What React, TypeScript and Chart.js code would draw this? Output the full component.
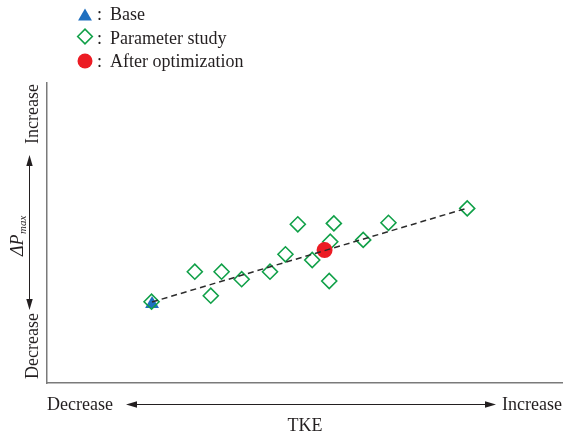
import { useEffect, useRef } from 'react';
import { Chart, registerables } from 'chart.js';

Chart.register(...registerables);

// Arbitrary-unit positions on a 0–10 grid (TKE horizontally, ΔPmax vertically)
const baseTKE = [2.04];
const baseDP = [2.63];

const studyTKE = [2.03, 2.87, 3.18, 3.39, 3.78, 4.33, 4.63, 4.87, 5.15, 5.48, 5.5, 5.57, 6.14, 6.63, 8.16];
const studyDP = [2.71, 3.71, 2.91, 3.71, 3.46, 3.71, 4.29, 5.29, 4.1, 3.4, 4.71, 5.32, 4.77, 5.34, 5.82];

const optTKE = [5.39];
const optDP = [4.43];

const trendTKE = [2.04, 8.16];
const trendDP = [2.7, 5.83];

const legendLabels = ['Base', 'Parameter study', 'After optimization'];
const xEndLabels = ['Decrease', 'Increase'];
const yEndLabels = ['Decrease', 'Increase'];
const xTitle = 'TKE';

const BLUE = '#1f6fbf';
const GREEN = '#10a048';
const RED = '#ec1c24';
const INK = '#231f20';
const SERIF = '"Liberation Serif", "Times New Roman", serif';

const zip = (xs: number[], ys: number[]) => xs.map((x, i) => ({ x, y: ys[i] }));

function arrowHead(ctx: CanvasRenderingContext2D, tx: number, ty: number, dx: number, dy: number) {
  // dx,dy: unit direction the arrow points to
  const len = 11;
  const half = 3.2;
  const bx = tx - dx * len;
  const by = ty - dy * len;
  ctx.beginPath();
  ctx.moveTo(tx, ty);
  ctx.lineTo(bx - dy * half, by + dx * half);
  ctx.lineTo(bx + dy * half, by - dx * half);
  ctx.closePath();
  ctx.fill();
}

const annotations = {
  id: 'annotations',
  afterDraw(chart: Chart) {
    const ctx = chart.ctx;
    ctx.save();
    ctx.fillStyle = INK;
    ctx.strokeStyle = INK;

    // Legend
    const lx = 85;
    // triangle
    ctx.fillStyle = BLUE;
    ctx.beginPath();
    const tr = 8;
    const ty = 16.5;
    ctx.moveTo(lx, ty - tr);
    ctx.lineTo(lx + tr * Math.sin(Math.PI / 3), ty + tr * 0.5);
    ctx.lineTo(lx - tr * Math.sin(Math.PI / 3), ty + tr * 0.5);
    ctx.closePath();
    ctx.fill();
    // diamond
    ctx.strokeStyle = GREEN;
    ctx.lineWidth = 1.6;
    const dy = 36.5;
    const dr = 7.3;
    ctx.beginPath();
    ctx.moveTo(lx - dr, dy);
    ctx.lineTo(lx, dy - dr);
    ctx.lineTo(lx + dr, dy);
    ctx.lineTo(lx, dy + dr);
    ctx.closePath();
    ctx.stroke();
    // circle
    ctx.fillStyle = RED;
    ctx.beginPath();
    ctx.arc(lx, 61, 7.5, 0, Math.PI * 2);
    ctx.fill();

    ctx.fillStyle = INK;
    ctx.font = `18px ${SERIF}`;
    ctx.textAlign = 'left';
    ctx.textBaseline = 'alphabetic';
    const baselines = [20, 43.5, 67];
    legendLabels.forEach((t, i) => {
      ctx.fillText(':', 97, baselines[i]);
      ctx.fillText(t, 110, baselines[i]);
    });

    // Horizontal axis annotation
    ctx.font = `18px ${SERIF}`;
    ctx.textAlign = 'left';
    ctx.fillText(xEndLabels[0], 47, 410);
    ctx.textAlign = 'right';
    ctx.fillText(xEndLabels[1], 562, 410);
    ctx.textAlign = 'center';
    ctx.fillText(xTitle, 305, 431);

    ctx.strokeStyle = INK;
    ctx.lineWidth = 1;
    ctx.beginPath();
    ctx.moveTo(130, 404.5);
    ctx.lineTo(492, 404.5);
    ctx.stroke();
    arrowHead(ctx, 126, 404.5, -1, 0);
    arrowHead(ctx, 496, 404.5, 1, 0);

    // Vertical axis annotation
    const rot = (x: number, y: number, draw: () => void) => {
      ctx.save();
      ctx.translate(x, y);
      ctx.rotate(-Math.PI / 2);
      draw();
      ctx.restore();
    };
    ctx.textAlign = 'center';
    rot(38, 114, () => ctx.fillText(yEndLabels[1], 0, 0));
    rot(38, 346, () => ctx.fillText(yEndLabels[0], 0, 0));
    rot(23, 236, () => {
      const main = 'ΔP';
      ctx.font = `italic 18px ${SERIF}`;
      const wMain = ctx.measureText(main).width;
      ctx.font = `italic 11px ${SERIF}`;
      const wSub = ctx.measureText('max').width;
      const start = -(wMain + wSub) / 2;
      ctx.textAlign = 'left';
      ctx.font = `italic 18px ${SERIF}`;
      ctx.fillText(main, start, 0);
      ctx.font = `italic 11px ${SERIF}`;
      ctx.fillText('max', start + wMain + 0.5, 3);
    });

    ctx.beginPath();
    ctx.moveTo(29.5, 160);
    ctx.lineTo(29.5, 305);
    ctx.stroke();
    arrowHead(ctx, 29.5, 155, 0, -1);
    arrowHead(ctx, 29.5, 310, 0, 1);

    ctx.restore();
  },
};

export default function App() {
  const ref = useRef<HTMLCanvasElement | null>(null);

  useEffect(() => {
    const canvas = ref.current;
    if (!canvas) return;
    const chart = new Chart(canvas, {
      type: 'scatter',
      data: {
        datasets: [
          {
            label: 'Trend',
            data: zip(trendTKE, trendDP),
            showLine: true,
            borderColor: '#2b2b2b',
            borderWidth: 1.5,
            borderDash: [6, 4],
            pointRadius: 0,
            fill: false,
          },
          {
            label: 'After optimization',
            data: zip(optTKE, optDP),
            pointStyle: 'circle',
            pointRadius: 8,
            backgroundColor: RED,
            borderColor: RED,
            borderWidth: 0,
          },
          {
            label: 'Parameter study',
            data: zip(studyTKE, studyDP),
            pointStyle: 'rectRot',
            pointRadius: 7.5,
            backgroundColor: 'rgba(255,255,255,0)',
            borderColor: GREEN,
            borderWidth: 1.6,
          },
          {
            label: 'Base',
            data: zip(baseTKE, baseDP),
            pointStyle: 'triangle',
            pointRadius: 8,
            backgroundColor: BLUE,
            borderColor: BLUE,
            borderWidth: 0,
          },
        ],
      },
      options: {
        animation: false,
        responsive: false,
        devicePixelRatio: 1,
        layout: { autoPadding: false, padding: { left: 47, top: 83, right: 1, bottom: 56 } },
        plugins: {
          legend: { display: false },
          tooltip: { enabled: false },
        },
        scales: {
          x: {
            type: 'linear',
            min: 0,
            max: 10,
            ticks: { display: false },
            grid: { display: false, drawTicks: false },
            border: { display: true, color: '#7a7a7a', width: 1.5 },
          },
          y: {
            type: 'linear',
            min: 0,
            max: 10,
            ticks: { display: false },
            grid: { display: false, drawTicks: false },
            border: { display: true, color: '#7a7a7a', width: 1.5 },
          },
        },
      },
      plugins: [annotations],
    });
    return () => chart.destroy();
  }, []);

  return (
    <div style={{ position: 'absolute', left: 0, top: 0, width: 563, height: 439, background: '#fff' }}>
      <canvas ref={ref} width={563} height={439} />
    </div>
  );
}
